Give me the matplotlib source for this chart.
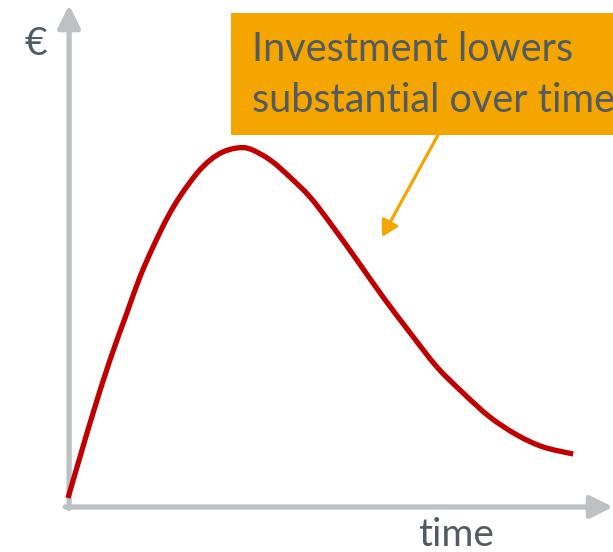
import numpy as np
import matplotlib.pyplot as plt
from matplotlib.patches import Rectangle, PathPatch
from matplotlib.path import Path

# investment curve (time in arbitrary units, euro in arbitrary units)
time = [0.0, 0.22, 0.46, 0.77, 1.08, 1.32, 1.56, 1.82, 2.06, 2.37, 2.61, 2.84,
        3.10, 3.34, 3.71, 4.07, 4.44, 4.81, 5.30, 5.78, 6.28, 6.77, 7.25,
        7.74, 8.24, 8.72, 9.27]
euro = [0.16, 0.98, 1.86, 2.92, 3.86, 4.58, 5.18, 5.76, 6.20, 6.66, 6.92, 7.08,
        7.16, 7.14, 6.92, 6.58, 6.18, 5.66, 4.92, 4.18, 3.46, 2.78, 2.26,
        1.78, 1.42, 1.18, 1.04]

note_lines = ["Investment lowers", "substantial over time"]
y_label = "€"
x_label = "time"

grey = "#BDC1C3"
red = "#C00000"
orange = "#F5A500"
text_col = "#525B5F"

plt.rcParams['font.family'] = ['Lato', 'DejaVu Sans']


def smooth_path(xs, ys):
    # Catmull-Rom through the points, written as cubic bezier segments
    p = np.column_stack([xs, ys])
    p = np.vstack([p[0], p, p[-1]])
    verts = [p[1]]
    codes = [Path.MOVETO]
    for i in range(1, len(p) - 2):
        c1 = p[i] + (p[i + 1] - p[i - 1]) / 6
        c2 = p[i + 1] - (p[i + 2] - p[i]) / 6
        verts += [c1, c2, p[i + 1]]
        codes += [Path.CURVE4] * 3
    return Path(verts, codes)


fig = plt.figure(figsize=(6.13, 5.52), dpi=100)
ax = fig.add_axes([0, 0, 1, 1])
ax.set_xlim(-68 / 54.5, 545 / 54.5)
ax.set_ylim(-46 / 50, 506 / 50)
ax.axis("off")

# axis arrows
arrow_kw = dict(arrowstyle="-|>,head_length=0.9,head_width=0.45",
                lw=3.8, color=grey, shrinkA=0, shrinkB=0, mutation_scale=15)
ax.annotate("", xy=(0.02, 10.02), xytext=(0.02, -0.05), arrowprops=arrow_kw)
ax.annotate("", xy=(10.0, -0.02), xytext=(-0.05, -0.02), arrowprops=arrow_kw)

ax.add_patch(PathPatch(smooth_path(time, euro), facecolor="none",
                       edgecolor=red, lw=3.8, capstyle="butt", zorder=3))

# callout box
box = Rectangle((163 / 54.5, 371 / 50), 450 / 54.5, 122 / 50,
                facecolor=orange, edgecolor="none", zorder=2)
ax.add_patch(box)
ax.text(184 / 54.5, 445 / 50, note_lines[0], fontsize=28.5, color=text_col,
        va="baseline", ha="left", zorder=4)
ax.text(184 / 54.5, 394 / 50, note_lines[1], fontsize=28.5, color=text_col,
        va="baseline", ha="left", zorder=4)
ax.annotate("", xy=(314 / 54.5, 269 / 50), xytext=(370 / 54.5, 371 / 50),
            arrowprops=dict(arrowstyle="-|>,head_length=0.8,head_width=0.45",
                            lw=2.3, color=orange, shrinkA=0, shrinkB=0,
                            mutation_scale=12))

ax.text(-32 / 54.5, 462 / 50, y_label, fontsize=28, color=text_col,
        ha="center", va="center")
ax.text(388 / 54.5, -40 / 50, x_label, fontsize=28, color=text_col,
        ha="center", va="baseline")

fig.savefig("out.png", dpi=100)
